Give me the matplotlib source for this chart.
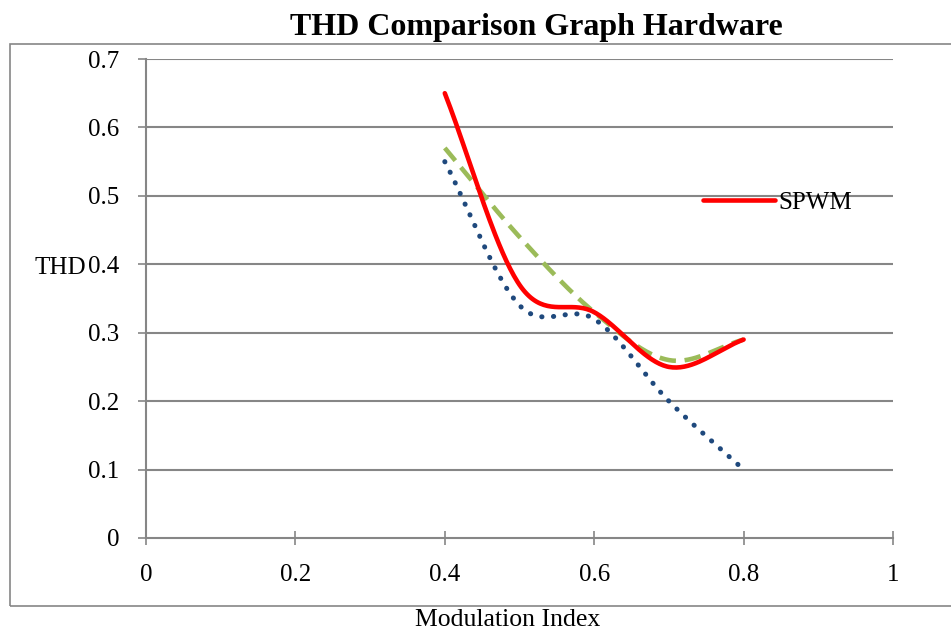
import numpy as np
import matplotlib.pyplot as plt
from matplotlib.patches import Rectangle

plt.rcParams['font.family'] = ['Liberation Serif', 'DejaVu Serif']

# measured THD at each modulation index
mod_index = [0.4, 0.5, 0.6, 0.7, 0.8]
thd_spwm = [0.65, 0.37, 0.33, 0.25, 0.29]
thd_green = [0.57, 0.44, 0.33, 0.26, 0.29]
thd_blue = [0.55, 0.34, 0.32, 0.20, 0.10]

x_ticks = [0, 0.2, 0.4, 0.6, 0.8, 1]
y_ticks = [0, 0.1, 0.2, 0.3, 0.4, 0.5, 0.6, 0.7]


def smooth(xs, ys, n=40):
    # cubic Hermite through the points, spreadsheet-style smoothed line
    xs = np.asarray(xs, float)
    ys = np.asarray(ys, float)
    m = np.empty_like(ys)
    m[1:-1] = (ys[2:] - ys[:-2]) / (xs[2:] - xs[:-2])
    m[0] = (ys[1] - ys[0]) / (xs[1] - xs[0])
    m[-1] = (ys[-1] - ys[-2]) / (xs[-1] - xs[-2])
    out_x, out_y = [], []
    for i in range(len(xs) - 1):
        h = xs[i + 1] - xs[i]
        t = np.linspace(0, 1, n, endpoint=(i == len(xs) - 2))
        h00 = 2 * t**3 - 3 * t**2 + 1
        h10 = t**3 - 2 * t**2 + t
        h01 = -2 * t**3 + 3 * t**2
        h11 = t**3 - t**2
        out_x.append(xs[i] + t * h)
        out_y.append(h00 * ys[i] + h10 * h * m[i] + h01 * ys[i + 1] + h11 * h * m[i + 1])
    return np.concatenate(out_x), np.concatenate(out_y)


fig = plt.figure(figsize=(9.51, 6.33), dpi=100)
ax = fig.add_axes([146 / 951, 1 - 538 / 633, 747 / 951, 479 / 633])

grid_col = '#868686'
for yv in y_ticks[1:]:
    ax.axhline(yv, color=grid_col, lw=1.5, zorder=1)

bx, by = smooth(mod_index, thd_blue)
ax.plot(bx, by, color='#1F497D', lw=3.6, linestyle=(0, (0.05, 2.3)),
        dash_capstyle='round', zorder=2)
gx, gy = smooth(mod_index, thd_green)
ax.plot(gx, gy, color='#9BBB59', lw=3.3, linestyle=(0, (3.6, 1.9)), zorder=3)
rx, ry = smooth(mod_index, thd_spwm)
line_spwm, = ax.plot(rx, ry, color='#FF0000', lw=3.3, solid_capstyle='round',
                     zorder=4, label='SPWM')

ax.set_xlim(0, 1)
ax.set_ylim(0, 0.7)
ax.set_xticks(x_ticks)
ax.set_xticklabels(['0', '0.2', '0.4', '0.6', '0.8', '1'])
ax.set_yticks(y_ticks)
ax.set_yticklabels(['0', '0.1', '0.2', '0.3', '0.4', '0.5', '0.6', '0.7'])
ax.tick_params(axis='x', direction='inout', length=10, width=1.2, color=grid_col,
               labelsize=18, pad=14)
ax.tick_params(axis='y', direction='out', length=6, width=1.2, color=grid_col,
               labelsize=18, pad=13)
for side in ['top', 'right']:
    ax.spines[side].set_visible(False)
for side in ['left', 'bottom']:
    ax.spines[side].set_color(grid_col)
    ax.spines[side].set_linewidth(1.5)

ax.legend(handles=[line_spwm], loc='center left', bbox_to_anchor=(0.745, 0.70),
          frameon=False, fontsize=18, handlelength=2.9, handletextpad=0.15,
          borderpad=0, borderaxespad=0)

fig.text(536 / 951, 1 - 27 / 633, 'THD Comparison Graph Hardware', ha='center',
         va='center', fontsize=23, fontweight='bold')
fig.text(60 / 951, 1 - 268 / 633, 'THD', ha='center', va='center', fontsize=18)
fig.text(508 / 951, 1 - 620 / 633, 'Modulation Index', ha='center', va='center',
         fontsize=18.5)

# chart border
fig.patches.append(Rectangle((10 / 951, 1 - 606 / 633), 950 / 951, 562 / 633,
                             transform=fig.transFigure, fill=False,
                             edgecolor=grid_col, lw=1.2))

fig.savefig('out.png', dpi=100)
